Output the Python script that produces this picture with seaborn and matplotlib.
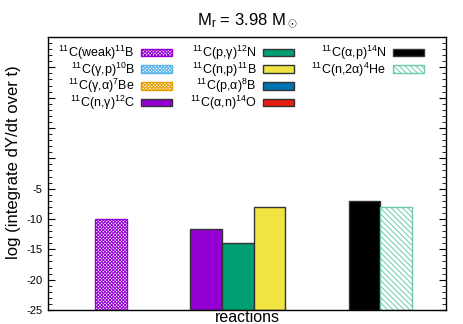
import pandas as pd
import matplotlib.pyplot as plt
import seaborn as sns
from matplotlib.patches import Patch
from matplotlib.ticker import AutoMinorLocator


# legend entries (all reactions in the network)
labels = ['$^{11}$C(weak)$^{11}$B', '$^{11}$C(γ,p)$^{10}$B', '$^{11}$C(γ,α)$^{7}$Be',
          '$^{11}$C(n,γ)$^{12}$C', '$^{11}$C(p,γ)$^{12}$N', '$^{11}$C(n,p)$^{11}$B',
          '$^{11}$C(p,α)$^{8}$B', '$^{11}$C(α,n)$^{14}$O', '$^{11}$C(α,p)$^{14}$N',
          '$^{11}$C(n,2α)$^{4}$He']
colors = ['#9400d3', '#56b4e9', '#e69f00', '#9400d3', '#009e73', '#f0e442',
          '#0072b2', '#e51e10', '#000000', '#6cc9ae']
hatches = ['xxxxxxxxxx', 'xxxxxxxxxx', 'xxxxxxxxxx', None, None, None, None, None, None,
           '\\\\\\\\\\\\']

# bars actually drawn: slot on the x axis and log value
bar_reaction = [0, 3, 4, 5, 8, 9]
bar_slot = ['s0', 's3', 's4', 's5', 's8', 's9']
bar_value = [-10.0, -11.7, -13.9, -8.0, -7.1, -8.0]
slot_order = ['s0', 's1', 's2', 's3', 's4', 's5', 's6', 's7', 's8', 's9']

ymin, ymax = -25, 20

df = pd.DataFrame({'slot': bar_slot, 'value': bar_value, 'reaction': bar_reaction})
df['height'] = df['value'] - ymin

sns.set_theme(style='ticks')
plt.rcParams['font.family'] = ['Liberation Sans', 'DejaVu Sans']
plt.rcParams['mathtext.fontset'] = 'custom'
plt.rcParams['mathtext.rm'] = 'Liberation Sans'
plt.rcParams['mathtext.it'] = 'Liberation Sans'
plt.rcParams['hatch.linewidth'] = 0.7
plt.rcParams['text.color'] = 'black'
plt.rcParams['axes.labelcolor'] = 'black'

fig = plt.figure(figsize=(4.63, 3.24), dpi=100)
ax = fig.add_axes([0.1037, 0.0432, 0.8596, 0.8426])

pal = {s: colors[r] for s, r in zip(bar_slot, bar_reaction)}
sns.barplot(data=df, x='slot', y='height', order=slot_order, hue='slot',
            palette=pal, legend=False, width=1.0, bottom=ymin,
            saturation=1, linewidth=1, edgecolor='#333333', ax=ax)

# hatch patterns and outlines per bar
for p in ax.patches:
    idx = int(round(p.get_x() + p.get_width() / 2))
    r = bar_reaction[bar_slot.index(slot_order[idx])]
    if hatches[r]:
        p.set_facecolor('white')
        p.set_edgecolor(colors[r])
        p.set_hatch(hatches[r])

ax.set_xlim(-1.99, 10.57)
ax.set_ylim(ymin, ymax)
ax.set_xticks([])
ax.set_yticks(range(-25, 20, 5))
ax.set_yticklabels([str(v) if v <= -5 else '' for v in range(-25, 20, 5)])
ax.yaxis.set_minor_locator(AutoMinorLocator(5))
ax.tick_params(axis='y', which='both', direction='in', right=True, labelsize=8,
               colors='black', pad=4)
ax.tick_params(axis='y', which='major', length=5, width=0.8)
ax.tick_params(axis='y', which='minor', length=3, width=0.6)
for s in ax.spines.values():
    s.set_color('black')
    s.set_linewidth(1)

ax.set_xlabel('reactions', fontsize=11.5, labelpad=0)
ax.set_ylabel('log (integrate dY/dt over t)', fontsize=12)
ax.yaxis.set_label_coords(-0.068, 0.54)
ax.set_title(r'M$_\mathrm{r}$ = 3.98 M$_\odot$', fontsize=12, pad=9)

handles = [Patch(facecolor='white' if h else c, edgecolor=c if h else '#333333',
                 hatch=h, linewidth=1) for c, h in zip(colors, hatches)]
# two invisible entries so the columns hold 4, 4 and 2 items
handles += [Patch(visible=False), Patch(visible=False)]
leg_labels = labels + ['', '']
ax.legend(handles, leg_labels, ncol=3, loc='upper center', bbox_to_anchor=(0.485, 1.0),
          frameon=False, markerfirst=False, fontsize=9, handlelength=2.5,
          handleheight=0.55, handletextpad=0.5, columnspacing=1.4,
          labelspacing=-0.13, borderaxespad=0.15)

plt.savefig('out.png', dpi=100)
